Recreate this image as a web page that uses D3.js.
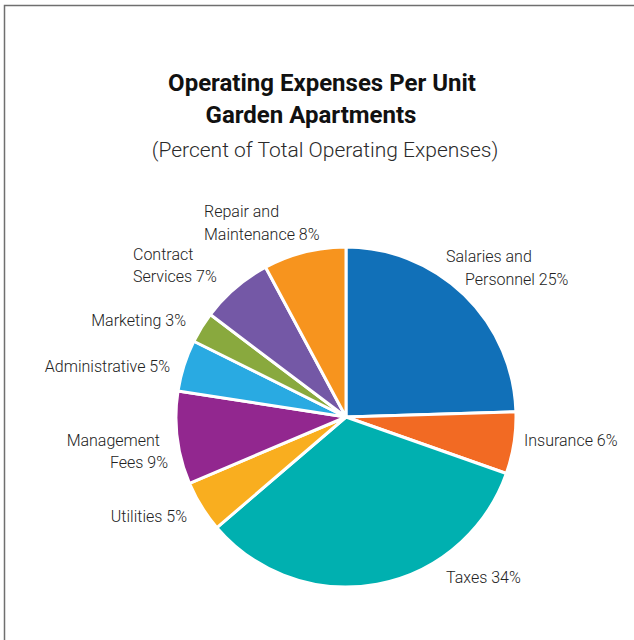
<!DOCTYPE html>
<html lang="en">
<head>
  <meta charset="UTF-8">
  <title>Operating Expenses Per Unit - Garden Apartments</title>
  <style>
    body { margin: 0; background: #fff; }
    svg { display: block; }
    .title { font: 700 24px Roboto, sans-serif; fill: #111; }
    .subtitle { font: 300 21px Roboto, sans-serif; fill: #2a2a2a; }
    .label { font: 300 16px Roboto, sans-serif; fill: #222; }
  </style>
</head>
<body>
  <svg width="634" height="640"></svg>
  <script src="https://d3js.org/d3.v7.min.js"></script>
  <script>
    // categories in clockwise order from 12 o'clock
    const categories = [
      "Salaries and Personnel", "Insurance", "Taxes", "Utilities",
      "Management Fees", "Administrative", "Marketing",
      "Contract Services", "Repair and Maintenance"
    ];
    const percents = [25, 6, 34, 5, 9, 5, 3, 7, 8];
    const colors = [
      "#1170b8", "#f26a23", "#00b0b0", "#f9ae1f",
      "#92278f", "#29aae2", "#89a93e", "#7458a6", "#f7941e"
    ];

    // label text lines and where they go (hand placed, like the original)
    const labelLayout = [
      { lines: ["Salaries and", "Personnel 25%"], x: [446, 465], y: [262, 285], anchor: "start" },
      { lines: ["Insurance 6%"], x: [524], y: [446], anchor: "start" },
      { lines: ["Taxes 34%"], x: [446], y: [583], anchor: "start" },
      { lines: ["Utilities 5%"], x: [187], y: [522], anchor: "end" },
      { lines: ["Management", "Fees 9%"], x: [160, 168], y: [446, 468], anchor: "end" },
      { lines: ["Administrative 5%"], x: [170], y: [372], anchor: "end" },
      { lines: ["Marketing 3%"], x: [186], y: [326], anchor: "end" },
      { lines: ["Contract", "Services 7%"], x: [133, 133], y: [260, 282], anchor: "start" },
      { lines: ["Repair and", "Maintenance 8%"], x: [204, 204], y: [217, 240], anchor: "start" }
    ];

    const data = categories.map((c, i) => ({ name: c, value: percents[i] }));

    const svg = d3.select("svg");
    const cx = 346, cy = 417, radius = 170;

    // frame lines (top and left)
    svg.append("path")
      .attr("d", "M4.5,640V5.5H634")
      .attr("fill", "none")
      .attr("stroke", "#6f6f6f")
      .attr("stroke-width", 1.5);

    // titles
    svg.append("text").attr("class", "title")
      .attr("x", 322).attr("y", 91).attr("text-anchor", "middle")
      .text("Operating Expenses Per Unit");
    svg.append("text").attr("class", "title")
      .attr("x", 311).attr("y", 123).attr("text-anchor", "middle")
      .text("Garden Apartments");
    svg.append("text").attr("class", "subtitle")
      .attr("x", 325).attr("y", 157).attr("text-anchor", "middle")
      .text("(Percent of Total Operating Expenses)");

    const pie = d3.pie().value(d => d.value).sort(null);
    const arc = d3.arc().innerRadius(0).outerRadius(radius);
    const color = d3.scaleOrdinal().domain(categories).range(colors);

    const g = svg.append("g").attr("transform", `translate(${cx},${cy})`);
    g.selectAll("path")
      .data(pie(data))
      .enter()
      .append("path")
      .attr("d", arc)
      .attr("fill", d => color(d.data.name))
      .attr("stroke", "#fff")
      .attr("stroke-width", 3)
      .attr("stroke-linejoin", "round");

    // labels
    labelLayout.forEach(l => {
      const t = svg.append("text").attr("class", "label").attr("text-anchor", l.anchor);
      l.lines.forEach((s, i) => {
        t.append("tspan").attr("x", l.x[i]).attr("y", l.y[i]).text(s);
      });
    });
  </script>
</body>
</html>
